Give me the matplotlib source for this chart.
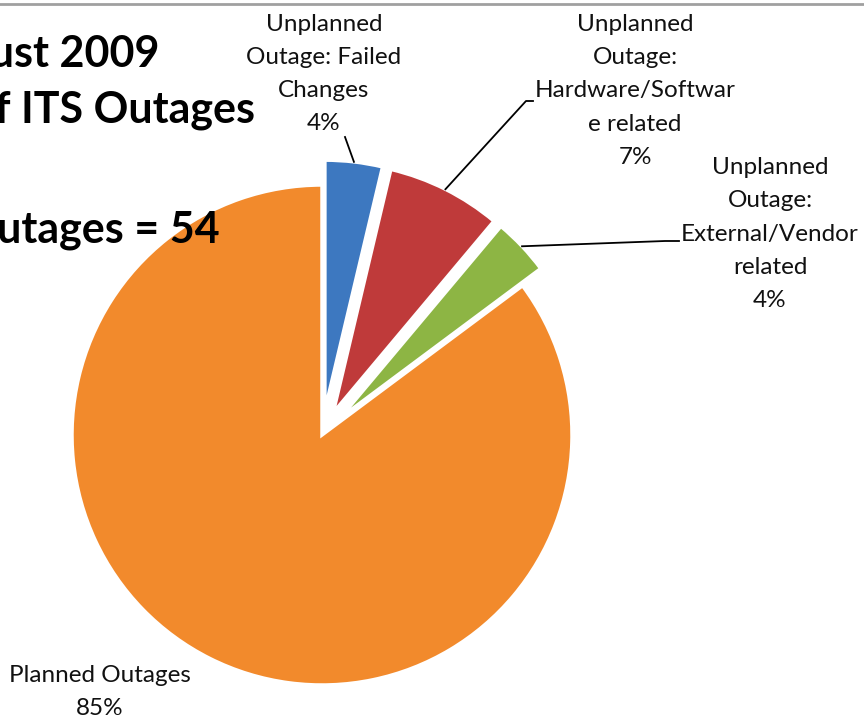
import matplotlib
matplotlib.use("Agg")
import matplotlib.pyplot as plt
import numpy as np

# data, in pie order (counter-clockwise from 12 o'clock)
categories = [
    "Planned Outages",
    "Unplanned\nOutage:\nExternal/Vendor\nrelated",
    "Unplanned\nOutage:\nHardware/Softwar\ne related",
    "Unplanned\nOutage: Failed\nChanges",
]
outages = [46, 2, 4, 2]
colors = ["#F28A2C", "#8DB544", "#BF3A3A", "#3D78C0"]
explode = [0, 0.1, 0.1, 0.1]   # fraction of the radius
title_lines = ["August 2009", "Breakdown of ITS Outages",
               f"Total Outages = {sum(outages)}"]

W, H = 864, 721
RADIUS = 250
plt.rcParams["font.family"] = ["Lato", "DejaVu Sans"]


def Y(y):
    # pixel rows counted from the top
    return H - y


fig = plt.figure(figsize=(W / 100, H / 100), dpi=100)
ax = fig.add_axes([0, 0, 1, 1])

# pie's explode is in data units, so scale it by the radius
wedges, _ = ax.pie(outages, colors=colors,
                   explode=[e * RADIUS for e in explode], startangle=90,
                   counterclock=True, radius=RADIUS, center=(322, Y(435)),
                   wedgeprops=dict(edgecolor="white", linewidth=2.5))
ax.set_xlim(0, W)
ax.set_ylim(0, H)
ax.axis("off")

total = sum(outages)
label_xy = [(100, 692), (770, 234), (635, 91), (324, 74)]
for name, val, (lx, ly) in zip(categories, outages, label_xy):
    ax.text(lx, Y(ly), f"{name}\n{round(val / total * 100)}%",
            ha="center", va="center", fontsize=17.5, linespacing=1.72,
            color="#111111", zorder=5)

# leader lines: from label to the middle of the wedge's outer arc
leader_start = {1: [(679, 241), (665, 241)],
                2: [(533, 101), (526, 101)],
                3: [(345, 137)]}
for i, pts in leader_start.items():
    w = wedges[i]
    mid = np.deg2rad((w.theta1 + w.theta2) / 2)
    ex = w.center[0] + w.r * np.cos(mid)
    ey = w.center[1] + w.r * np.sin(mid)
    xs = [p[0] for p in pts] + [ex]
    ys = [Y(p[1]) for p in pts] + [ey]
    ax.plot(xs, ys, color="black", lw=1.3, zorder=4)

# title, cut off at the left edge as in the slide
title_pos = [(160, 67), (255, 123), (220, 242)]
for line, (rx, by) in zip(title_lines, title_pos):
    ax.text(rx, Y(by), line, ha="right", va="baseline", fontsize=31,
            fontweight="bold", color="black", zorder=6)

fig.add_artist(plt.Line2D([0, 1], [1 - 4 / H, 1 - 4 / H],
                          transform=fig.transFigure, color="#a0a0a0", lw=2))

fig.savefig("out.png", dpi=100)
